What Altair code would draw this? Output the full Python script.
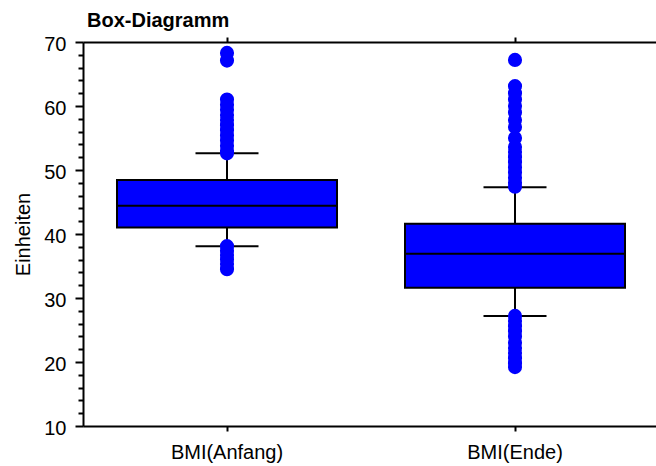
import altair as alt
import pandas as pd

categories = ["BMI(Anfang)", "BMI(Ende)"]
q1 = [41.0, 31.6]
median = [44.4, 36.9]
q3 = [48.45, 41.6]
whisker_low = [38.1, 27.2]
whisker_high = [52.6, 47.3]

outliers_anfang = [68.3, 67.1, 61.0, 60.2, 59.4, 58.6, 57.8, 57.0, 56.2, 55.4,
                   54.6, 53.8, 53.0, 52.6, 38.1, 37.4, 36.7, 36.0, 35.3, 34.5]
outliers_ende = [67.2, 63.1, 62.0, 61.0, 60.0, 59.0, 57.8, 56.7, 55.0, 53.6,
                 52.8, 52.0, 51.2, 50.4, 49.6, 48.8, 48.0, 47.4,
                 27.2, 26.4, 25.6, 24.8, 24.0, 23.0, 22.2, 21.4, 20.6, 19.8, 19.2]

y_major = [10, 20, 30, 40, 50, 60, 70]
y_minor = [v for v in range(12, 70, 2) if v % 10 != 0]

FONT = "Liberation Sans"
BLUE = "#0000FF"

box_df = pd.DataFrame({
    "cat": categories, "q1": q1, "median": median, "q3": q3,
    "lo": whisker_low, "hi": whisker_high,
})
out_df = pd.DataFrame({
    "cat": [categories[0]] * len(outliers_anfang) + [categories[1]] * len(outliers_ende),
    "v": outliers_anfang + outliers_ende,
})

xscale = alt.Scale(domain=categories, range=[0, 576], paddingInner=0, paddingOuter=0)
yscale = alt.Scale(domain=[10, 70], nice=False, zero=False)

main_x_axis = alt.Axis(orient="bottom", title=None, labelFontSize=20, labelFont=FONT,
                       labelColor="black", tickSize=5, tickWidth=2, tickColor="black",
                       domainWidth=2, domainColor="black", labelPadding=11, grid=False,
                       labelAngle=0)
top_x_axis = alt.Axis(orient="top", title=None, labels=False, tickSize=5, tickWidth=2,
                      tickColor="black", domainWidth=2, domainColor="black", grid=False)
main_y_axis = alt.Axis(orient="left", title="Einheiten", values=y_major,
                       labelFontSize=20, labelFont=FONT, labelColor="black",
                       tickSize=8, tickWidth=2, tickColor="black", labelOffset=2,
                       domainWidth=2, domainColor="black", labelPadding=9, grid=False,
                       titleFont=FONT, titleFontSize=20, titleFontWeight="normal",
                       titleColor="black", titlePadding=10)
minor_y_axis = alt.Axis(orient="left", title=None, values=y_minor, labels=False,
                        tickSize=5, tickWidth=2, tickColor="black", domain=False,
                        grid=False)

base = alt.Chart(box_df)

whisk_hi = base.mark_rule(color="black", strokeWidth=2).encode(
    x=alt.X("cat:N", scale=xscale, axis=main_x_axis, sort=categories),
    y=alt.Y("q3:Q", scale=yscale, axis=main_y_axis),
    y2="hi:Q",
)
whisk_lo = base.mark_rule(color="black", strokeWidth=2).encode(
    x=alt.X("cat:N", scale=xscale, axis=top_x_axis, sort=categories),
    y=alt.Y("q1:Q", scale=yscale, axis=minor_y_axis),
    y2="lo:Q",
)
boxes = base.mark_bar(size=220, color=BLUE, stroke="black", strokeWidth=2).encode(
    x=alt.X("cat:N", scale=xscale, axis=None, sort=categories),
    y=alt.Y("q1:Q", scale=yscale, axis=None),
    y2="q3:Q",
)
med = base.mark_tick(size=220, thickness=2, color="black", opacity=1).encode(
    x=alt.X("cat:N", scale=xscale, axis=None, sort=categories),
    y=alt.Y("median:Q", scale=yscale, axis=None),
)
cap_hi = base.mark_tick(size=63, thickness=2, color="black", opacity=1).encode(
    x=alt.X("cat:N", scale=xscale, axis=None, sort=categories),
    y=alt.Y("hi:Q", scale=yscale, axis=None),
)
cap_lo = base.mark_tick(size=63, thickness=2, color="black", opacity=1).encode(
    x=alt.X("cat:N", scale=xscale, axis=None, sort=categories),
    y=alt.Y("lo:Q", scale=yscale, axis=None),
)
pts = alt.Chart(out_df).mark_circle(size=200, color=BLUE, opacity=1).encode(
    x=alt.X("cat:N", scale=xscale, axis=None, sort=categories),
    y=alt.Y("v:Q", scale=yscale, axis=None),
)

chart = alt.layer(whisk_hi, whisk_lo, boxes, med, cap_hi, cap_lo, pts).resolve_axis(
    x="independent", y="independent"
).properties(
    width=573, height=384,
    autosize=alt.AutoSizeParams(type="none"),
    padding={"left": 83, "top": 42, "right": 0, "bottom": 40},
    title=alt.TitleParams("Box-Diagramm", anchor="start", frame="group", font=FONT,
                          fontSize=20, fontWeight="bold", color="black", offset=3, dx=4),
).configure_view(stroke=None).configure(background="white")

chart.save("out.html", embed_options={"renderer": "svg", "actions": False})
